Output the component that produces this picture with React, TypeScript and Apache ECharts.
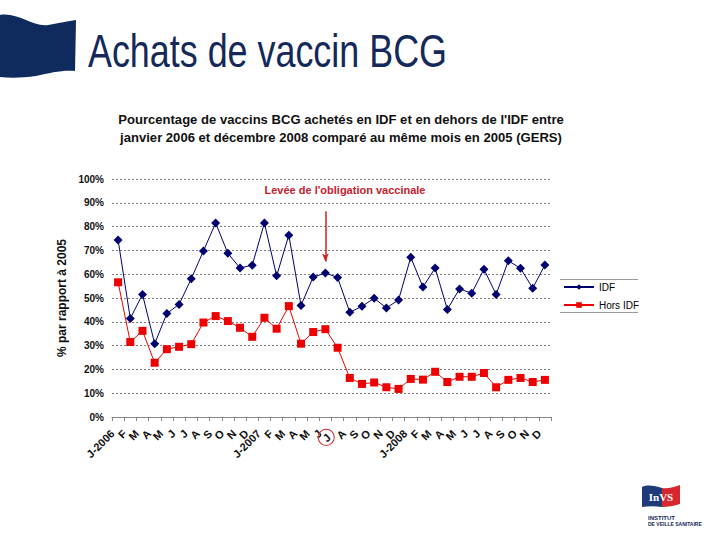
import React, { useEffect, useRef } from 'react';
import * as echarts from 'echarts';

const months = ['J-2006','F','M','A','M','J','J','A','S','O','N','D','J-2007','F','M','A','M','J','J','A','S','O','N','D','J-2008','F','M','A','M','J','J','A','S','O','N','D'];
const idf = [74.4,41.4,51.5,30.8,43.5,47.3,58.1,69.8,81.5,68.8,62.6,63.8,81.5,59.3,76.4,46.9,58.8,60.5,58.6,44.0,46.5,49.9,45.8,49.2,67.1,54.6,62.6,45.2,53.8,52.0,62.1,51.5,65.6,62.5,54.1,63.9];
const horsIdf = [56.6,31.5,36.2,22.8,28.5,29.5,30.6,39.7,42.4,40.3,37.5,33.7,41.7,37.1,46.6,30.8,35.7,36.9,29.1,16.4,13.9,14.5,12.5,11.8,16.0,15.7,19.0,14.7,16.9,16.9,18.5,12.5,15.6,16.4,14.7,15.6];
const circledIndex = 18;
const arrowIndex = 17;
const arrowFrom = 86.4;
const arrowTo = 65.3;

const FLAG = 'M0,15 C18,12 32,27 48,25 C60,23 68,21 76,20 L75,71 C62,70 50,73 36,76 C22,78 10,78 0,77 Z';
const LOGO_BLUE = 'M642,487 C648,484 655,486 662,488 L662,507 C655,506 648,506 642,507 Z';
const LOGO_RED = 'M662,488 C668,489 674,487 680,485 L680,504 C674,506 668,507 662,507 Z';

echarts.graphic.registerShape('slideFlag', echarts.graphic.extendPath(FLAG, {}));
echarts.graphic.registerShape('logoBlue', echarts.graphic.extendPath(LOGO_BLUE, {}));
echarts.graphic.registerShape('logoRed', echarts.graphic.extendPath(LOGO_RED, {}));

export default function App() {
  const ref = useRef<HTMLDivElement>(null);
  useEffect(() => {
    if (!ref.current) return;
    const chart = echarts.init(ref.current, null, { renderer: 'svg' });
    const font = '"Liberation Sans", Arial, sans-serif';
    chart.setOption({
      animation: false,
      backgroundColor: '#ffffff',
      textStyle: { fontFamily: font },
      grid: { left: 112, top: 179, width: 439, height: 238, containLabel: false },
      legend: {
        orient: 'vertical',
        left: 558,
        top: 276,
        itemWidth: 30,
        itemHeight: 7,
        itemGap: 6,
        textStyle: { fontSize: 10, color: '#000', fontFamily: font, lineHeight: 12 },
        data: ['IDF', 'Hors IDF'],
      },
      xAxis: {
        type: 'category',
        data: months,
        boundaryGap: true,
        axisLine: { lineStyle: { color: '#888', width: 1 } },
        axisTick: { show: true, length: 4, lineStyle: { color: '#888' } },
        axisLabel: {
          interval: 0,
          rotate: 45,
          fontSize: 11,
          fontWeight: 'bold',
          color: '#111',
          margin: 9,
          padding: [0, 8, 0, 0],
          fontFamily: font,
          formatter: (v: string, i: number) => (i === circledIndex ? '{c|' + v + '}' : v),
          rich: {
            c: {
              fontSize: 11,
              fontWeight: 'bold',
              color: '#111',
              borderColor: '#d03030',
              borderWidth: 1,
              borderRadius: 10,
              padding: [3, 5, 2, 5],
              fontFamily: font,
            },
          },
        },
        splitLine: { show: false },
      },
      yAxis: {
        type: 'value',
        min: 0,
        max: 100,
        interval: 10,
        name: '% par rapport à 2005',
        nameLocation: 'middle',
        nameGap: 44,
        nameTextStyle: { fontSize: 12, fontWeight: 'bold', color: '#111', fontFamily: font },
        axisLine: { show: false },
        axisTick: { show: false },
        axisLabel: { formatter: '{value}%', fontSize: 10, fontWeight: 'bold', color: '#111', margin: 8, fontFamily: font },
        splitLine: { show: true, lineStyle: { color: '#808080', type: [2, 2], width: 1 } },
      },
      series: [
        {
          name: 'IDF',
          type: 'line',
          data: idf,
          symbol: 'diamond',
          symbolSize: 9,
          itemStyle: { color: '#000070' },
          lineStyle: { color: '#000070', width: 1 },
          markLine: {
            silent: true,
            symbol: ['none', 'arrow'],
            symbolSize: [5, 8],
            label: { show: false },
            lineStyle: { color: '#d42020', width: 1.5, type: 'solid' },
            data: [[{ coord: [arrowIndex, arrowFrom] }, { coord: [arrowIndex, arrowTo] }]],
          },
          z: 3,
        },
        {
          name: 'Hors IDF',
          type: 'line',
          data: horsIdf,
          symbol: 'rect',
          symbolSize: 8,
          itemStyle: { color: '#ee0000' },
          lineStyle: { color: '#ee0000', width: 1 },
          z: 2,
        },
      ],
      graphic: [
        { type: 'slideFlag', x: 0, y: 0, style: { fill: '#0f2a5c' } },
        {
          type: 'text',
          x: 88,
          y: 51,
          scaleX: 0.78,
          style: { text: 'Achats de vaccin BCG', fontSize: 46, fontFamily: font, fill: '#14295a', textVerticalAlign: 'middle' },
        },
        {
          type: 'text',
          x: 341,
          y: 129,
          scaleX: 1.09,
          style: {
            text: "Pourcentage de vaccins BCG achetés en IDF et en dehors de l'IDF entre\njanvier 2006 et décembre 2008 comparé au même mois en 2005 (GERS)",
            fontSize: 12,
            fontWeight: 'bold',
            fontFamily: font,
            fill: '#111',
            textAlign: 'center',
            textVerticalAlign: 'middle',
            lineHeight: 18,
          },
        },
        {
          type: 'text',
          x: 345,
          y: 190,
          style: { text: "Levée de l'obligation vaccinale", fontSize: 11, fontWeight: 'bold', fontFamily: font, fill: '#c8202f', textAlign: 'center', textVerticalAlign: 'middle' },
        },
        { type: 'line', shape: { x1: 560, y1: 279.5, x2: 638, y2: 279.5 }, style: { stroke: '#999', lineWidth: 1 } },
        { type: 'line', shape: { x1: 560, y1: 312.5, x2: 638, y2: 312.5 }, style: { stroke: '#999', lineWidth: 1 } },
        { type: 'logoBlue', x: 0, y: 0, style: { fill: '#1f3a78' } },
        { type: 'logoRed', x: 0, y: 0, style: { fill: '#d8262e' } },
        {
          type: 'text', x: 661, y: 497,
          style: { text: 'InVS', fontSize: 11, fontWeight: 'bold', fontFamily: '"Liberation Serif", serif', fill: '#ffffff', textAlign: 'center', textVerticalAlign: 'middle' },
        },
        {
          type: 'text', x: 648, y: 518,
          style: { text: 'INSTITUT', fontSize: 6, fontWeight: 'bold', fontFamily: font, fill: '#14295a', textVerticalAlign: 'middle' },
        },
        {
          type: 'text', x: 648, y: 524,
          style: { text: 'DE VEILLE SANITAIRE', fontSize: 5, fontWeight: 'bold', fontFamily: font, fill: '#14295a', textVerticalAlign: 'middle' },
        },
      ],
    });
    return () => chart.dispose();
  }, []);
  return <div ref={ref} style={{ position: 'fixed', left: 0, top: 0, width: 720, height: 540 }} />;
}
